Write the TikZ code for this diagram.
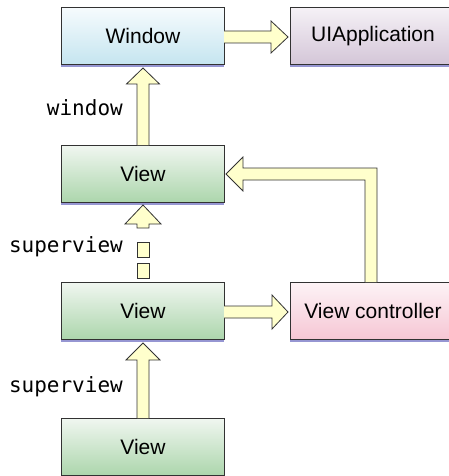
\documentclass[tikz,border=0pt]{standalone}
\usepackage{fontspec}
\setmainfont{Liberation Sans}
\setmonofont{DejaVu Sans Mono}
\definecolor{winTop}{RGB}{246,251,253}
\definecolor{winBot}{RGB}{197,229,240}
\definecolor{appTop}{RGB}{245,241,246}
\definecolor{appBot}{RGB}{212,198,216}
\definecolor{viewTop}{RGB}{240,246,240}
\definecolor{viewBot}{RGB}{172,214,172}
\definecolor{vcTop}{RGB}{253,243,246}
\definecolor{vcBot}{RGB}{246,198,212}
\definecolor{arrowYellow}{RGB}{255,255,204}
\definecolor{shadowBlue}{RGB}{150,150,210}
\definecolor{edgeGray}{RGB}{50,50,50}
\begin{document}
\begin{tikzpicture}[x=1pt,y=-1pt,
  box/.style={draw=edgeGray, line width=0.9pt, minimum width=163pt, minimum height=57pt,
    inner sep=0pt, anchor=north west, font=\fontsize{21}{24}\selectfont,
    preaction={fill=shadowBlue, transform canvas={yshift=-2.5pt}}},
  wide/.style={minimum width=165pt},
  blockarrow/.style={fill=arrowYellow, draw=edgeGray, line width=0.8pt, line join=miter},
  codelabel/.style={font=\ttfamily\fontsize{21}{24}\selectfont, inner sep=0pt, anchor=base east}]
\useasboundingbox (0,0) rectangle (449,476);
\clip (0,0) rectangle (449,476);

% boxes
\node[box, top color=winTop, bottom color=winBot] (win) at (61,7) {Window};
\node[box, wide, top color=appTop, bottom color=appBot] (app) at (290,7) {UIApplication};
\node[box, top color=viewTop, bottom color=viewBot] (v1) at (61,145) {View};
\node[box, top color=viewTop, bottom color=viewBot] (v2) at (61,282) {View};
\node[box, wide, top color=vcTop, bottom color=vcBot] (vc) at (290,282) {View controller};
\node[box, top color=viewTop, bottom color=viewBot] (v3) at (61,418) {View};

% labels
\node[codelabel] (lw) at (123,116) {window};
\node[codelabel] (ls1) at (123,252) {superview};
\node[codelabel] (ls2) at (123,392) {superview};

% Window -> UIApplication
\draw[blockarrow] (224,31) -- (271,31) -- (271,21) -- (288,37) -- (271,53) -- (271,43) -- (224,43);
% View -> Window
\draw[blockarrow] (137,145) -- (137,84) -- (126.5,84) -- (143,68) -- (159.5,84) -- (149,84) -- (149,145);
% View (dashed) -> View
\draw[blockarrow] (137,228) -- (137,224) -- (125,224) -- (143,205) -- (161,224) -- (149,224) -- (149,228) -- cycle;
\draw[blockarrow] (137,242) rectangle (149,257);
\draw[blockarrow] (137,263) rectangle (149,278);
% View controller -> View
\draw[blockarrow] (365,282) -- (365,180) -- (243,180) -- (243,191) -- (226,174) -- (243,157) -- (243,168) -- (377,168) -- (377,282);
% View -> View controller
\draw[blockarrow] (224,306) -- (272,306) -- (272,295) -- (288,312) -- (272,329) -- (272,318) -- (224,318);
% View -> View
\draw[blockarrow] (137,418) -- (137,360) -- (126,360) -- (143,343) -- (160,360) -- (149,360) -- (149,418);
\end{tikzpicture}
\end{document}
